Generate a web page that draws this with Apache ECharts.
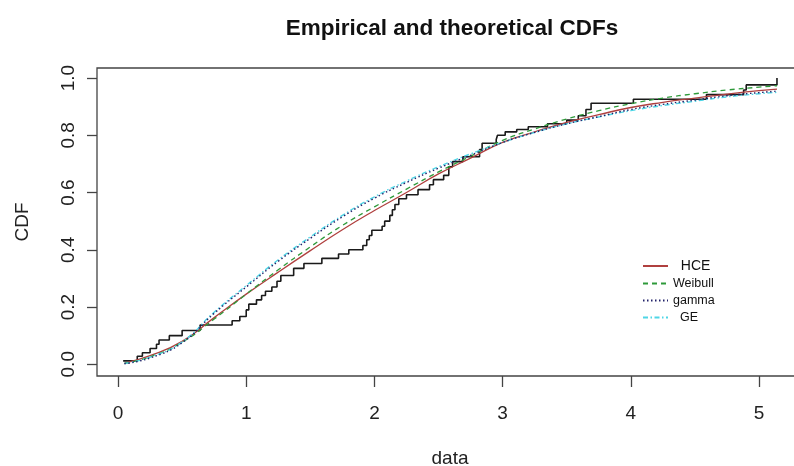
<!DOCTYPE html>
<html>
<head>
<meta charset="utf-8">
<script src="https://cdn.jsdelivr.net/npm/echarts@6/dist/echarts.min.js"></script>
<style>html,body{margin:0;padding:0;background:#fff;}#c{width:794px;height:466px;}</style>
</head>
<body>
<div id="c"></div>
<script>
// Empirical CDF (jump locations and level after each jump)
var ecdfX = [0.04,0.15,0.19,0.25,0.30,0.32,0.40,0.50,0.64,0.89,0.95,1.00,1.02,1.08,1.12,1.15,1.20,1.24,1.27,1.37,1.45,1.59,1.72,1.80,1.91,1.94,1.96,1.98,2.06,2.08,2.12,2.14,2.16,2.19,2.25,2.34,2.43,2.46,2.54,2.58,2.61,2.69,2.82,2.84,2.95,2.96,3.02,3.11,3.20,3.35,3.50,3.59,3.65,3.69,4.02,4.59,4.88,4.90,5.14];
var ecdfY = [0.012,0.028,0.04,0.055,0.07,0.085,0.10,0.118,0.137,0.152,0.167,0.19,0.21,0.225,0.24,0.255,0.27,0.29,0.31,0.335,0.352,0.37,0.385,0.40,0.415,0.435,0.45,0.468,0.482,0.50,0.52,0.54,0.558,0.578,0.592,0.61,0.627,0.645,0.66,0.69,0.708,0.725,0.75,0.772,0.785,0.80,0.812,0.82,0.83,0.84,0.853,0.868,0.89,0.912,0.926,0.942,0.958,0.976,1.0];

// Theoretical CDFs read at these x values
var curveX  = [0.05,0.25,0.5,0.75,1.0,1.25,1.5,1.75,2.0,2.25,2.5,2.75,3.0,3.25,3.5,3.75,4.0,4.25,4.5,4.75,5.0,5.14];
var hceY    = [0.004,0.03,0.08,0.163,0.245,0.322,0.397,0.47,0.537,0.60,0.665,0.72,0.775,0.812,0.845,0.872,0.897,0.915,0.93,0.944,0.956,0.961];
var weibullY= [0.003,0.026,0.077,0.158,0.245,0.33,0.41,0.485,0.55,0.612,0.672,0.727,0.782,0.822,0.857,0.886,0.91,0.93,0.945,0.958,0.968,0.973];
var gammaY  = [0.002,0.022,0.075,0.178,0.27,0.36,0.44,0.515,0.58,0.635,0.685,0.73,0.775,0.81,0.84,0.865,0.89,0.908,0.923,0.938,0.949,0.954];
var geY     = [0.003,0.025,0.078,0.182,0.275,0.365,0.445,0.52,0.585,0.64,0.69,0.735,0.775,0.81,0.84,0.864,0.886,0.904,0.919,0.934,0.945,0.95];

var xTicks = [0,1,2,3,4,5];
var yTicks = [0,0.2,0.4,0.6,0.8,1.0];

function pairs(xs, ys){ return xs.map(function(x,i){ return [x, ys[i]]; }); }

var chart = echarts.init(document.getElementById('c'), null, {renderer:'canvas'});
var font = 'Liberation Sans, Arial, sans-serif';
chart.setOption({
  animation:false,
  backgroundColor:'#fff',
  title:{
    text:'Empirical and theoretical CDFs',
    left:447, top:12, textAlign:'center',
    textStyle:{fontFamily:font, fontWeight:'bold', fontSize:22.5, color:'#111'}
  },
  grid:{left:97, right:-9, top:68, bottom:90, show:true, borderColor:'#444', borderWidth:1.3,
    backgroundColor:'transparent', containLabel:false, outerBoundsMode:'none'},
  legend:{
    orient:'vertical', left:642, top:259, padding:0, itemWidth:25, itemHeight:10, itemGap:4,
    itemStyle:{opacity:0},
    formatter:function(n){ return (n==='HCE'||n==='GE') ? '  '+n : n; },
    data:[
      {name:'HCE', textStyle:{fontSize:14}},
      {name:'Weibull', textStyle:{fontSize:12.5}},
      {name:'gamma', textStyle:{fontSize:12.5}},
      {name:'GE', textStyle:{fontSize:12.5}}
    ],
    textStyle:{fontFamily:font, color:'#111'}
  },
  xAxis:{
    type:'value', min:-0.164, max:5.343,
    name:'data', nameLocation:'middle', nameGap:73,
    nameTextStyle:{fontFamily:font, fontSize:19, color:'#222'},
    axisLine:{show:false, onZero:false},
    axisTick:{show:true, inside:false, length:11, customValues:xTicks, lineStyle:{color:'#444', width:1.3}},
    axisLabel:{customValues:xTicks, margin:28, fontFamily:font, fontSize:19, color:'#222',
      formatter:function(v){return String(v);}},
    splitLine:{show:false}
  },
  yAxis:{
    type:'value', min:-0.041, max:1.035,
    name:'CDF', nameLocation:'middle', nameGap:65,
    nameTextStyle:{fontFamily:font, fontSize:19, color:'#222'},
    axisLine:{show:false, onZero:false},
    axisTick:{show:true, inside:false, length:10, customValues:yTicks, lineStyle:{color:'#444', width:1.3}},
    axisLabel:{customValues:yTicks, rotate:90, margin:19, fontFamily:font, fontSize:19, color:'#222',
      formatter:function(v){return v.toFixed(1);}},
    splitLine:{show:false}
  },
  series:[
    {name:'ECDF', type:'line', step:'end', symbol:'none', data:pairs(ecdfX, ecdfY),
      lineStyle:{color:'#1a1a1a', width:1.6}, z:2},
    {name:'HCE', type:'line', smooth:true, symbol:'none', data:pairs(curveX, hceY),
      color:'#b0403f', lineStyle:{color:'#b0403f', width:1.3, type:'solid'}, z:3},
    {name:'Weibull', type:'line', smooth:true, symbol:'none', data:pairs(curveX, weibullY),
      color:'#2e9a3a', lineStyle:{color:'#2e9a3a', width:1.3, type:[5,4]}, z:3},
    {name:'gamma', type:'line', smooth:true, symbol:'none', data:pairs(curveX, gammaY),
      color:'#22226a', lineStyle:{color:'#22226a', width:1.4, type:[1.5,2.5]}, z:4},
    {name:'GE', type:'line', smooth:true, symbol:'none', data:pairs(curveX, geY),
      color:'#4fd6e6', lineStyle:{color:'#4fd6e6', width:1.4, type:[5,2.5,1.5,2.5]}, z:3}
  ]
});
</script>
</body>
</html>
